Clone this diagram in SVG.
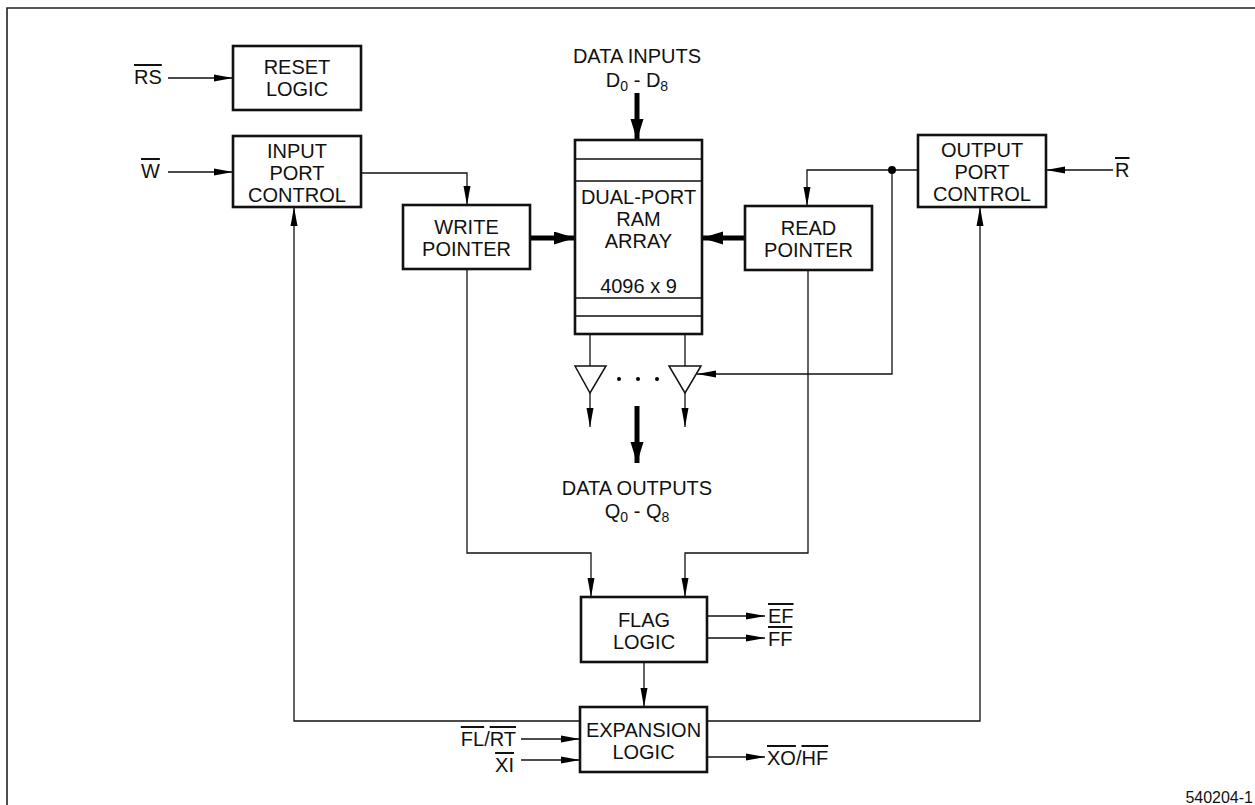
<svg xmlns="http://www.w3.org/2000/svg" width="1255" height="805" viewBox="0 0 1255 805">
<style>
text{font-family:"Liberation Sans",Arial,sans-serif;font-size:20px;fill:#111}
.c{text-anchor:middle}
.e{text-anchor:end}
.box{fill:#fff;stroke:#111;stroke-width:2.6}
.w{fill:none;stroke:#111;stroke-width:1.3}
.wa{fill:none;stroke:#111;stroke-width:1.3;marker-end:url(#ah)}
.thick{fill:none;stroke:#000;stroke-width:5;marker-end:url(#tah)}
.ol{text-decoration:overline}
.sub{font-size:14px}
.buf{fill:#fff;stroke:#111;stroke-width:1.5}
</style>
<defs>
<marker id="ah" markerUnits="userSpaceOnUse" markerWidth="20" markerHeight="10" refX="19" refY="4" orient="auto">
<path d="M0,0.5 L19,4 L0,7.5 z" fill="#000"/>
</marker>
<marker id="tah" markerUnits="userSpaceOnUse" markerWidth="22" markerHeight="14" refX="21" refY="6.5" orient="auto">
<path d="M0,0 L21,6.5 L0,13 z" fill="#000"/>
</marker>
</defs>
<path d="M7,805 L7,8 L1255,8" fill="none" stroke="#222" stroke-width="1.6"/>

<g id="connectors">
<path class="wa" d="M168,78 H233"/>
<path class="wa" d="M168,172 H233"/>
<path class="wa" d="M361,173 H467 V205"/>
<path class="thick" d="M530,238 H575"/>
<path class="thick" d="M745,238 H702"/>
<path class="thick" d="M637,93 V140"/>
<path class="wa" d="M918,170 H807 V206"/>
<circle cx="892" cy="170" r="4" fill="#000"/>
<path class="wa" d="M892,170 V374 H697"/>
<path class="wa" d="M1113,170 H1046"/>
<path class="w" d="M590,334 V366 M685,334 V366"/>
<path class="wa" d="M590,393 V427"/>
<path class="wa" d="M685,393 V427"/>
<path class="thick" d="M637,406 V463"/>
<path class="wa" d="M467,269 V553 H591 V597"/>
<path class="wa" d="M808,270 V553 H685 V597"/>
<path class="wa" d="M707,616 H765"/>
<path class="wa" d="M707,638 H765"/>
<path class="wa" d="M644,662 V707"/>
<path class="wa" d="M580,721 H294 V207"/>
<path class="wa" d="M707,721 H980 V207"/>
<path class="wa" d="M521,739 H580"/>
<path class="wa" d="M521,760 H580"/>
<path class="wa" d="M707,757 H765"/>
</g>

<g id="buffers">
<path class="buf" d="M575,366 H606 L590,393 z"/>
<path class="buf" d="M669,366 H701 L685,393 z"/>
<circle cx="619" cy="379" r="2" fill="#000"/>
<circle cx="638" cy="379" r="2" fill="#000"/>
<circle cx="657" cy="379" r="2" fill="#000"/>
</g>

<g id="reset-logic">
<rect class="box" x="233" y="46" width="128" height="64"/>
<text class="c" x="297" y="74">RESET</text>
<text class="c" x="297" y="96">LOGIC</text>
</g>
<g id="input-port-control">
<rect class="box" x="233" y="136" width="128" height="71"/>
<text class="c" x="297" y="158">INPUT</text>
<text class="c" x="297" y="180">PORT</text>
<text class="c" x="297" y="202">CONTROL</text>
</g>
<g id="write-pointer">
<rect class="box" x="403" y="205" width="127" height="64"/>
<text class="c" x="466.5" y="234">WRITE</text>
<text class="c" x="466.5" y="256">POINTER</text>
</g>
<g id="ram-array">
<rect class="box" x="575" y="140" width="127" height="194"/>
<path class="w" d="M575,159 H702 M575,181 H702 M575,298 H702 M575,316 H702"/>
<text class="c" x="638.5" y="204">DUAL-PORT</text>
<text class="c" x="638.5" y="226">RAM</text>
<text class="c" x="638.5" y="248">ARRAY</text>
<text class="c" x="638.5" y="293">4096 x 9</text>
</g>
<g id="read-pointer">
<rect class="box" x="745" y="206" width="127" height="64"/>
<text class="c" x="808.5" y="235">READ</text>
<text class="c" x="808.5" y="257">POINTER</text>
</g>
<g id="output-port-control">
<rect class="box" x="918" y="135" width="128" height="72"/>
<text class="c" x="982" y="157">OUTPUT</text>
<text class="c" x="982" y="179">PORT</text>
<text class="c" x="982" y="201">CONTROL</text>
</g>
<g id="flag-logic">
<rect class="box" x="581" y="597" width="126" height="65"/>
<text class="c" x="644" y="627">FLAG</text>
<text class="c" x="644" y="649">LOGIC</text>
</g>
<g id="expansion-logic">
<rect class="box" x="580" y="707" width="127" height="65"/>
<text class="c" x="643.5" y="737">EXPANSION</text>
<text class="c" x="643.5" y="759">LOGIC</text>
</g>

<g id="labels">
<text x="134" y="84"><tspan class="ol">RS</tspan></text>
<text x="141" y="178"><tspan class="ol">W</tspan></text>
<text x="1115" y="177"><tspan class="ol">R</tspan></text>
<text class="c" x="637" y="63">DATA INPUTS</text>
<text class="c" x="637" y="87">D<tspan class="sub" dy="4">0</tspan><tspan dy="-4"> - D</tspan><tspan class="sub" dy="4">8</tspan></text>
<text class="c" x="637" y="495">DATA OUTPUTS</text>
<text class="c" x="637" y="518">Q<tspan class="sub" dy="4">0</tspan><tspan dy="-4"> - Q</tspan><tspan class="sub" dy="4">8</tspan></text>
<text x="768" y="623"><tspan class="ol">EF</tspan></text>
<text x="768" y="646"><tspan class="ol">FF</tspan></text>
<text class="e" x="516" y="746"><tspan class="ol">FL</tspan>/<tspan class="ol">RT</tspan></text>
<text class="e" x="514" y="772"><tspan class="ol">XI</tspan></text>
<text x="767" y="765"><tspan class="ol">XO</tspan>/<tspan class="ol">HF</tspan></text>
<text class="e" x="1253" y="803" style="font-size:16px">540204-1</text>
</g>
</svg>
